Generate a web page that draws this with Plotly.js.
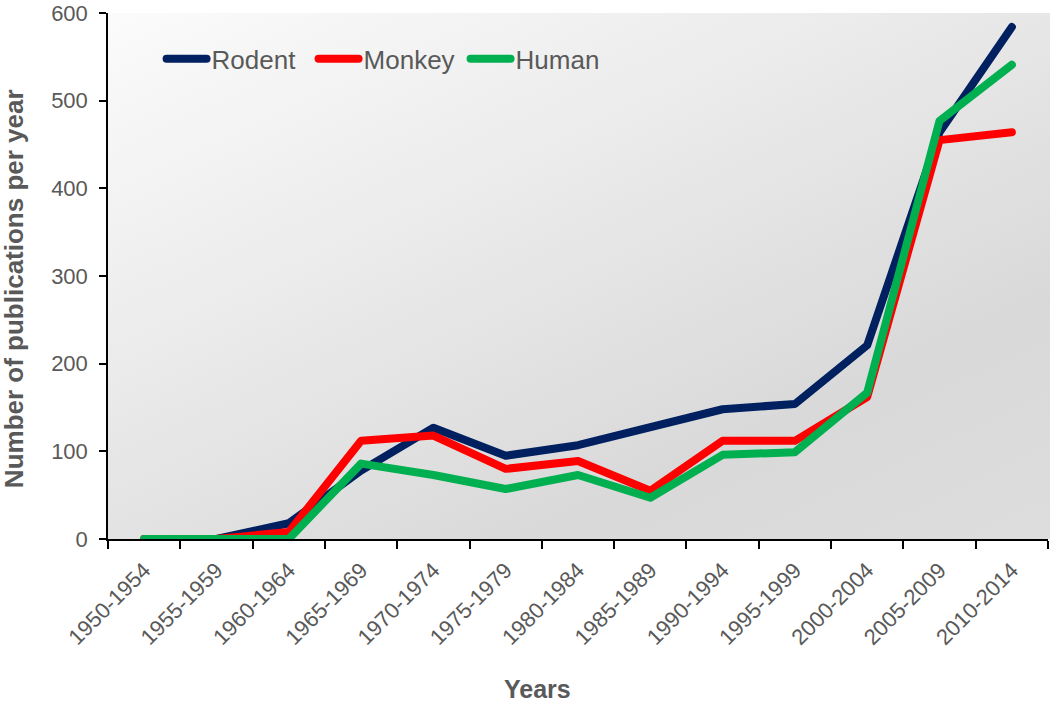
<!DOCTYPE html>
<html>
<head>
<meta charset="utf-8">
<script src="https://cdn.plot.ly/plotly-3.0.1.min.js"></script>
<style>
  body { margin: 0; background: #fff; }
  #wrap { position: relative; width: 1050px; height: 704px; }
  /* grey gradient behind the plot area */
  #bg {
    position: absolute; left: 108px; top: 13px; width: 942px; height: 526px;
    background: linear-gradient(155deg, #fbfbfb 0%, #ececec 35%, #d9d9d9 75%, #dddddd 100%);
  }
  #graph { position: absolute; left: 0; top: 0; width: 1050px; height: 704px; }
  .scatterlayer path.js-line, .legendlines path { stroke-linejoin: round; stroke-linecap: round; }
</style>
</head>
<body>
<div id="wrap">
  <div id="bg"></div>
  <div id="graph"></div>
</div>
<script>
  // periods on the x axis
  let periods = ['1950-1954', '1955-1959', '1960-1964', '1965-1969', '1970-1974', '1975-1979',
    '1980-1984', '1985-1989', '1990-1994', '1995-1999', '2000-2004', '2005-2009', '2010-2014'];

  // publications per year
  let rodent = [0, 0, 18, 78, 127, 95, 107, 128, 148, 154, 221, 464, 584];
  let monkey = [0, 0, 8, 112, 118, 80, 89, 55, 112, 112, 162, 455, 464];
  let human = [0, 0, 0, 86, 73, 57, 73, 47, 96, 99, 167, 477, 541];

  let yTicks = [0, 100, 200, 300, 400, 500, 600];

  let gray = '#595959';
  let font = 'Liberation Sans, Arial, sans-serif';

  function line(name, values, color) {
    return {
      x: periods,
      y: values,
      name: name,
      type: 'scatter',
      mode: 'lines',
      line: {color: color, width: 8},
      hoverinfo: 'x+y+name'
    };
  }

  let traces = [
    line('Rodent', rodent, '#002060'),
    line('Monkey', monkey, '#ff0000'),
    line('Human', human, '#00b050')
  ];

  let layout = {
    width: 1050,
    height: 704,
    margin: {l: 108, r: 2, t: 13, b: 165},
    paper_bgcolor: 'rgba(0,0,0,0)',
    plot_bgcolor: 'rgba(0,0,0,0)',
    font: {family: font, color: gray},
    showlegend: true,
    legend: {
      orientation: 'h',
      x: 0.057, xanchor: 'left',
      y: 0.913, yanchor: 'middle',
      itemwidth: 40,
      entrywidth: 97,
      bgcolor: 'rgba(0,0,0,0)',
      font: {size: 26, color: gray, family: font}
    },
    xaxis: {
      type: 'category',
      range: [-0.5, 12.5],
      showgrid: false,
      zeroline: false,
      showline: true,
      linecolor: '#000',
      linewidth: 1.5,
      ticks: 'outside',
      tickson: 'boundaries',
      ticklen: 8,
      tickwidth: 1.5,
      tickcolor: '#000',
      tickangle: -45,
      ticklabelstandoff: 8,
      tickfont: {size: 22, color: gray, family: font},
      fixedrange: true
    },
    yaxis: {
      range: [0, 600],
      tickmode: 'array',
      tickvals: yTicks,
      ticktext: yTicks.map(String),
      ticklabeloverflow: 'allow',
      showgrid: false,
      zeroline: false,
      showline: true,
      linecolor: '#000',
      linewidth: 1.5,
      ticks: 'outside',
      ticklen: 7,
      tickwidth: 1.5,
      tickcolor: '#000',
      ticklabelstandoff: 7,
      tickfont: {size: 22, color: gray, family: font},
      fixedrange: true
    },
    annotations: [
      {
        text: '<b>Years</b>', xref: 'paper', yref: 'paper',
        x: 0.457, y: -0.285, xanchor: 'center', yanchor: 'middle',
        showarrow: false, font: {size: 25, color: gray, family: font}
      },
      {
        text: '<b>Number of publications per year</b>', xref: 'paper', yref: 'paper',
        x: -0.1, y: 0.475, xanchor: 'center', yanchor: 'middle', textangle: -90,
        showarrow: false, font: {size: 26, color: gray, family: font}
      }
    ]
  };

  Plotly.newPlot('graph', traces, layout, {displayModeBar: false});
</script>
</body>
</html>
